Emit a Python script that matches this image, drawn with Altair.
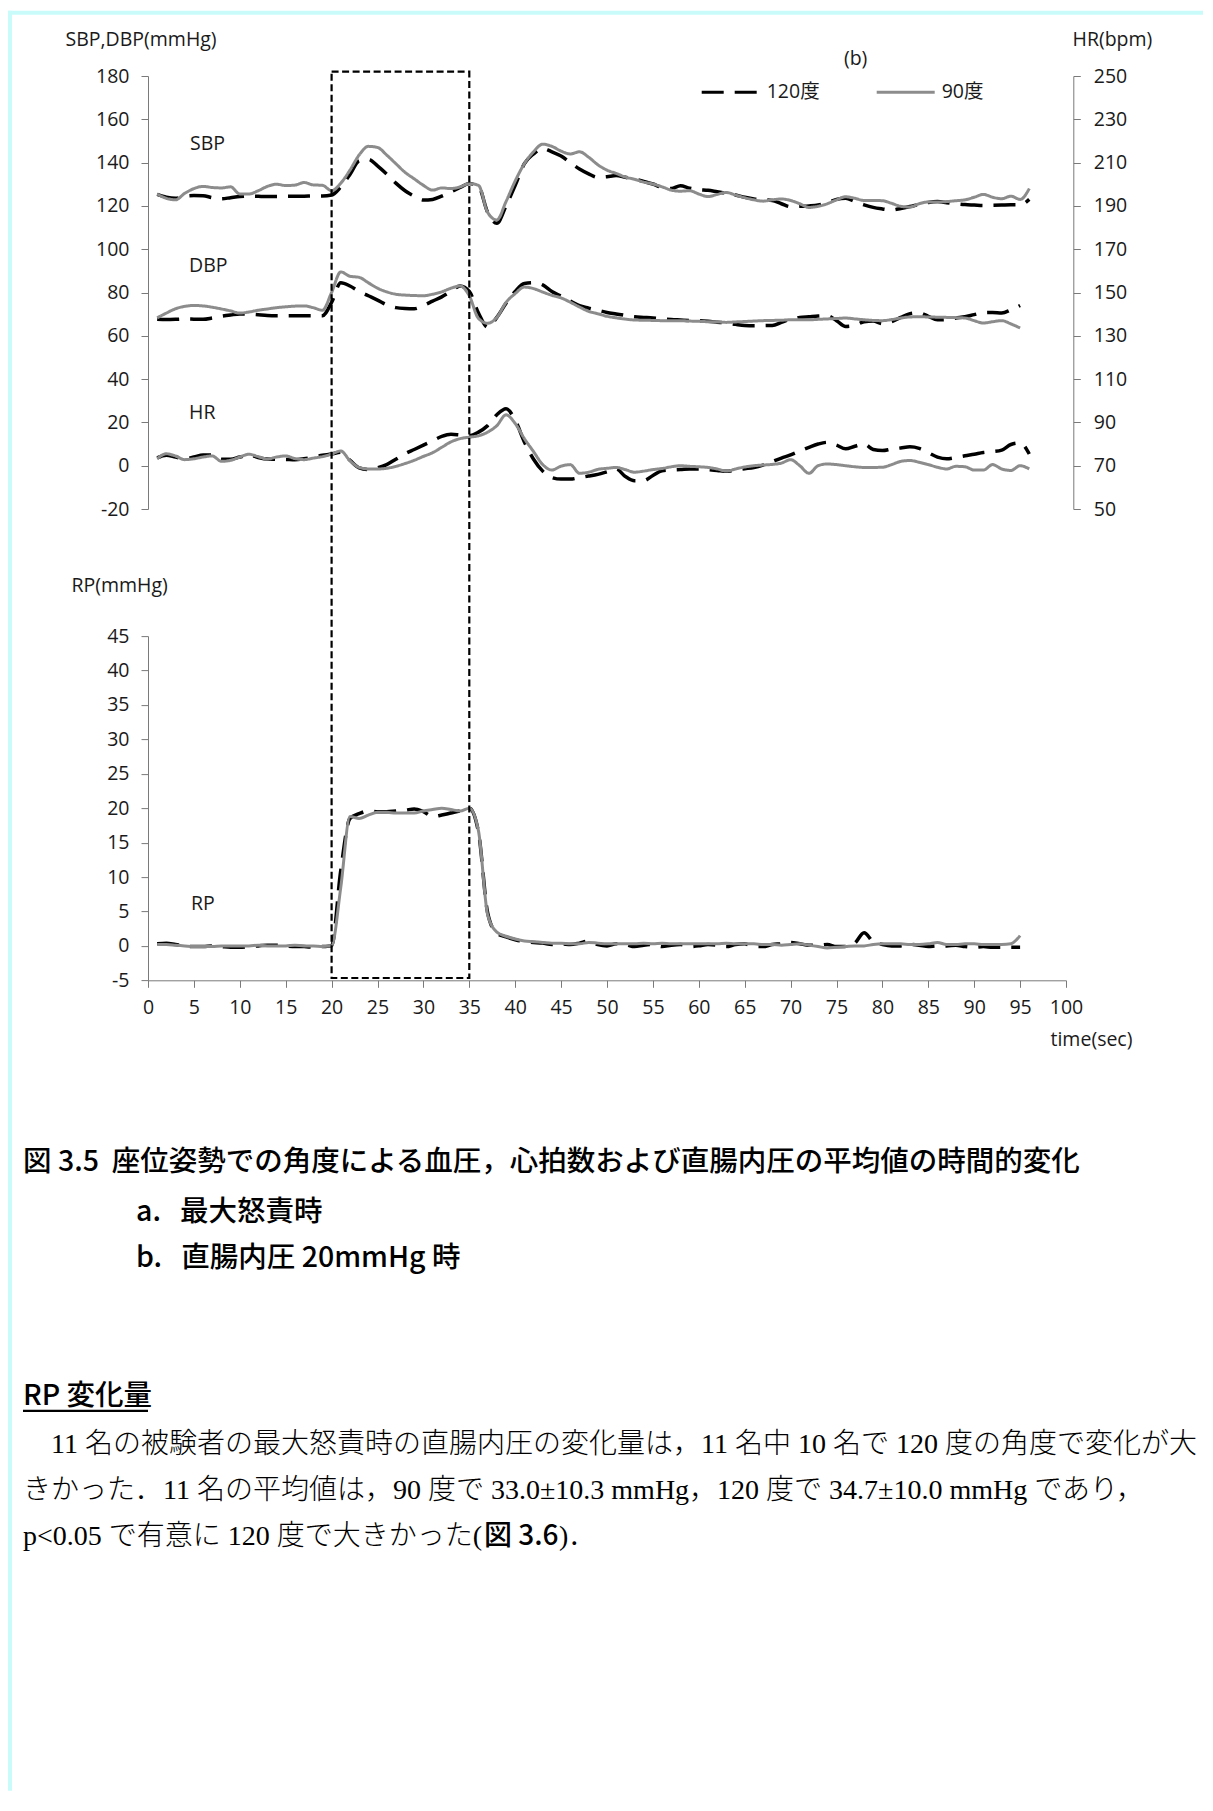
import altair as alt
import pandas as pd

# ------------------------------------------------------------------ data
time_s = list(range(1, 97))  # seconds

sbp_120 = [125.3, 124.0, 123.5, 124.5, 124.8, 124.7, 123.8, 123.3, 123.8, 124.3,
           124.5, 124.4, 124.3, 124.3, 124.4, 124.5, 124.5, 124.6, 124.6, 125.0,
           128.8, 134.5, 140.8, 141.5, 138.5, 134.7, 130.5, 127.0, 124.5, 122.7,
           123.0, 124.5, 126.5, 128.5, 130.3, 129.0, 117.0, 112.0, 120.0, 129.5,
           139.5, 144.0, 146.5, 145.0, 143.0, 140.0, 137.0, 134.8, 133.2, 133.5,
           134.0, 133.2, 132.4, 131.3, 130.1, 128.5, 128.0, 129.3, 128.2, 127.5,
           127.2, 126.5, 125.8, 125.0, 124.0, 123.2, 122.8, 122.5, 121.0, 119.6,
           119.8, 120.0, 120.4, 121.5, 123.0, 123.5, 122.0, 120.5, 119.3, 118.6,
           118.1, 118.8, 119.7, 120.7, 121.6, 122.0, 121.5, 121.0, 120.6, 120.4,
           120.2, 120.3, 120.4, 120.5, 120.5, 123.0]
sbp_90 = [125.5, 123.5, 122.8, 125.8, 128.0, 129.0, 128.5, 128.3, 128.8, 125.5,
          125.5, 127.0, 129.0, 130.0, 129.4, 129.6, 130.8, 129.7, 129.5, 127.0,
          130.5, 136.5, 143.5, 147.5, 147.0, 143.5, 139.5, 135.5, 132.5, 129.5,
          127.3, 128.3, 128.0, 128.8, 130.3, 129.5, 117.0, 113.5, 122.0, 131.5,
          139.5, 145.0, 148.5, 147.5, 145.3, 144.0, 145.0, 142.5, 139.0, 136.5,
          135.0, 133.3, 132.3, 131.0, 130.1, 128.8, 127.3, 126.8, 127.0, 125.5,
          124.3, 125.3, 126.2, 125.0, 123.8, 122.8, 122.2, 122.8, 123.2, 122.5,
          121.0, 119.3, 119.8, 121.0, 122.8, 124.2, 123.5, 122.5, 122.5, 122.4,
          121.2, 119.8, 119.5, 121.0, 121.8, 121.8, 122.0, 122.4, 122.8, 124.0,
          125.3, 124.0, 123.3, 124.5, 123.0, 128.0]
dbp_120 = [67.7, 67.5, 67.6, 67.8, 67.7, 67.6, 68.2, 69.0, 69.6, 70.1,
           70.0, 69.7, 69.4, 69.3, 69.3, 69.3, 69.3, 69.3, 69.3, 75.4,
           84.5, 83.0, 80.5, 78.5, 76.5, 74.3, 73.0, 72.6, 72.5, 74.0,
           76.0, 78.0, 80.5, 83.0, 80.5, 70.5, 64.0, 68.5, 75.0, 80.5,
           84.2, 84.5, 83.5, 80.5, 78.3, 76.0, 73.9, 72.8, 71.8, 70.8,
           70.1, 69.4, 68.8, 68.5, 68.2, 67.8, 67.5, 67.3, 67.1, 67.0,
           66.7, 66.3, 65.9, 65.3, 64.8, 64.7, 64.7, 64.8, 66.2, 67.7,
           68.5, 68.8, 69.1, 69.2, 67.0, 64.3, 64.8, 66.5, 66.8, 65.6,
           66.5, 68.5, 70.2, 70.6, 69.0, 67.4, 67.5, 68.2, 68.8, 69.8,
           70.7, 70.8, 70.5, 72.0, 74.0, None]
dbp_90 = [68.3, 70.5, 72.5, 73.6, 74.0, 73.8, 73.2, 72.4, 71.5, 70.5,
          71.0, 71.8, 72.4, 73.0, 73.4, 73.7, 73.8, 73.0, 71.8, 80.0,
          89.5, 87.5, 87.0, 84.5, 82.0, 80.3, 79.2, 78.8, 78.6, 78.5,
          79.2, 80.3, 82.0, 83.0, 78.5, 68.0, 65.8, 68.5, 75.4, 79.5,
          82.5, 81.8, 80.2, 78.7, 77.5, 75.5, 73.3, 71.3, 70.2, 69.0,
          68.3, 67.7, 67.3, 67.2, 67.1, 67.0, 67.0, 67.0, 66.8, 66.7,
          66.5, 66.4, 66.2, 66.4, 66.6, 66.8, 67.0, 67.1, 67.2, 67.4,
          67.4, 67.4, 67.6, 67.8, 68.0, 68.2, 67.8, 67.4, 67.1, 67.0,
          67.5, 68.2, 68.7, 68.8, 68.7, 68.6, 68.5, 68.4, 68.2, 67.0,
          65.9, 66.5, 67.0, 65.5, 63.6, None]
hr_120 = [73.6, 74.8, 74.0, 73.2, 74.0, 75.0, 75.0, 73.0, 73.0, 74.0,
          74.9, 73.8, 73.1, 73.0, 72.9, 72.7, 73.2, 74.0, 74.8, 75.4,
          76.2, 72.5, 69.0, 68.2, 69.0, 70.5, 73.0, 75.5, 77.5, 79.5,
          81.5, 83.5, 84.5, 84.2, 83.9, 85.5, 88.5, 93.5, 96.3, 91.0,
          81.0, 73.0, 67.5, 64.5, 63.8, 63.8, 64.5, 65.2, 66.0, 67.2,
          68.5, 65.0, 63.0, 63.1, 65.5, 67.7, 68.0, 68.2, 68.5, 68.5,
          68.2, 67.8, 67.4, 68.0, 68.6, 69.2, 70.3, 71.8, 73.5, 75.0,
          76.8, 78.5, 80.0, 80.8, 79.5, 77.8, 79.0, 80.0, 77.5, 77.0,
          77.7, 78.2, 78.7, 78.0, 76.0, 74.0, 73.2, 73.8, 74.6, 75.3,
          76.1, 76.5, 77.2, 79.8, 80.5, 75.4]
hr_90 = [73.2, 75.5, 74.5, 72.8, 73.2, 74.0, 74.5, 72.0, 72.5, 74.0,
         75.3, 74.2, 73.1, 74.0, 74.5, 73.3, 72.8, 73.5, 74.2, 75.4,
         76.8, 72.3, 69.2, 68.5, 68.5, 68.8, 69.7, 71.0, 72.5, 74.3,
         76.0, 78.5, 81.0, 82.5, 83.2, 83.8, 85.5, 88.5, 93.5, 89.5,
         82.5, 76.5, 70.5, 68.0, 69.8, 70.5, 66.5, 67.0, 68.3, 68.8,
         69.2, 68.2, 67.0, 67.5, 68.2, 68.7, 69.5, 70.0, 69.7, 69.5,
         69.2, 68.5, 67.5, 68.5, 69.4, 70.0, 70.3, 70.6, 71.2, 72.8,
         70.0, 66.5, 70.0, 70.8, 70.5, 70.0, 69.5, 69.2, 69.2, 69.3,
         70.5, 72.0, 72.4, 71.6, 70.5, 69.3, 68.5, 69.7, 69.5, 68.0,
         68.0, 70.5, 68.5, 67.8, 70.0, 68.5]
rp_120 = [0.3, 0.4, 0.2, 0.0, -0.1, -0.1, 0.0, -0.1, -0.2, -0.2,
          -0.1, 0.0, 0.1, 0.1, 0.0, -0.1, -0.1, -0.2, -0.1, 0.0,
          11.0, 18.5, 19.2, 19.6, 19.5, 19.5, 19.6, 19.7, 19.9, 19.5,
          18.8, 19.0, 19.3, 19.6, 20.0, 16.5, 4.8, 1.8, 1.3, 0.9,
          0.6, 0.5, 0.4, 0.2, 0.3, 0.2, 0.4, 0.7, 0.2, 0.0,
          0.3, 0.2, -0.1, 0.1, 0.2, -0.1, 0.1, 0.2, -0.1, 0.0,
          0.2, 0.1, -0.1, 0.2, 0.3, -0.1, -0.1, 0.2, 0.3, 0.5,
          0.3, 0.1, 0.1, 0.2, -0.1, -0.1, 0.4, 1.9, 0.6, 0.2,
          0.0, 0.0, 0.2, 0.1, -0.1, 0.0, 0.0, 0.1, -0.1, -0.2,
          -0.1, -0.2, -0.2, -0.2, -0.2, None]
rp_90 = [0.2, 0.2, 0.1, 0.0, -0.1, -0.1, -0.1, 0.0, 0.0, 0.0,
         0.0, 0.1, 0.0, 0.0, 0.0, 0.1, 0.0, 0.0, -0.1, 0.0,
         8.5, 18.8, 18.5, 19.0, 19.4, 19.4, 19.3, 19.3, 19.3, 19.6,
         19.8, 20.0, 19.8, 19.6, 20.0, 16.7, 4.5, 2.0, 1.4, 1.0,
         0.7, 0.6, 0.5, 0.4, 0.4, 0.3, 0.3, 0.5, 0.4, 0.3,
         0.3, 0.3, 0.3, 0.4, 0.3, 0.4, 0.3, 0.3, 0.3, 0.3,
         0.3, 0.3, 0.4, 0.3, 0.3, 0.3, 0.2, 0.2, 0.1, 0.2,
         0.3, 0.1, -0.1, -0.3, -0.2, -0.1, 0.0, 0.0, 0.2, 0.3,
         0.3, 0.3, 0.2, 0.2, 0.3, 0.5, 0.2, 0.2, 0.3, 0.3,
         0.2, 0.2, 0.2, 0.3, 1.5, None]

angles = ["120度", "90度"]
left_ticks = list(range(-20, 181, 20))
right_ticks = list(range(50, 251, 20))
rp_ticks = list(range(-5, 46, 5))
time_ticks = list(range(0, 101, 5))
box_span = [20, 35]  # dashed frame, seconds

NB = "\u00a0"
caption_lines = ["図 3.5" + NB + NB + "座位姿勢での角度による血圧，心拍数および直腸内圧の平均値の時間的変化",
                 "a." + NB * 3 + "最大怒責時",
                 "b." + NB * 3 + "直腸内圧 20mmHg 時"]
heading = "RP 変化量"
body_lines = ["11 名の被験者の最大怒責時の直腸内圧の変化量は，11 名中 10 名で 120 度の角度で変化が大",
              "きかった．11 名の平均値は，90 度で 33.0±10.3 mmHg，120 度で 34.7±10.0 mmHg であり，"]
body_last = ["p<0.05 で有意に 120 度で大きかった(", "図 3.6", ")．"]


def rows(values, measure, angle, key="value"):
    return [{"time": ti, "measure": measure, "angle": angle, key: v}
            for ti, v in zip(time_s, values) if v is not None]


bp_df = {"120度": pd.DataFrame(rows(sbp_120, "SBP", "120度") + rows(dbp_120, "DBP", "120度")),
         "90度": pd.DataFrame(rows(sbp_90, "SBP", "90度") + rows(dbp_90, "DBP", "90度"))}
hr_df = {"120度": pd.DataFrame(rows(hr_120, "HR", "120度", "bpm")),
         "90度": pd.DataFrame(rows(hr_90, "HR", "90度", "bpm"))}
rp_df = {"120度": pd.DataFrame(rows(rp_120, "RP", "120度")),
         "90度": pd.DataFrame(rows(rp_90, "RP", "90度"))}
box_df = pd.DataFrame({"start": [box_span[0]], "end": [box_span[1]]})
one = pd.DataFrame({"n": [0]})

# ------------------------------------------------------------------ style
CH_FONT = "Open Sans, Noto Sans CJK JP"
GOTHIC = "Noto Sans CJK JP"
MINCHO = "Liberation Serif, Noto Sans CJK JP"
TXT = "#1a1a1a"
AXC = "#7a7a7a"
CYAN = "#c9fbfb"
FS = 19.5
CFS = 28.5
BFS = 28
GW = 500  # gothic weight
W_PLOT, H_TOP, H_BOT = 918, 433, 344.2

line_style = {"120度": dict(strokeWidth=3.5), "90度": dict(strokeWidth=3.0)}
rp_style = {"120度": dict(color="#000000", strokeDash=[22, 11], strokeWidth=3.5),
            "90度": dict(color="#8c8c8c", strokeWidth=3.0)}


def note(text, x, y, size=FS, font=CH_FONT, weight="normal", align="left",
         baseline="alphabetic", color=TXT):
    return alt.Chart(one).mark_text(
        text=text, align=align, baseline=baseline, font=font, fontSize=size,
        fontWeight=weight, color=color
    ).encode(x=alt.value(x), y=alt.value(y))


def band(x, x2, y, y2, color):
    return alt.Chart(one).mark_rect(color=color).encode(
        x=alt.value(x), x2=alt.value(x2), y=alt.value(y), y2=alt.value(y2))


xscale = alt.Scale(domain=[0, 100], nice=False, zero=False)

legend = alt.Legend(orient="none", legendX=551.7, legendY=-15, direction="horizontal",
                    title=None, symbolType="stroke", symbolSize=3364, symbolStrokeWidth=3.2,
                    labelFont=CH_FONT, labelFontSize=FS, labelColor=TXT, labelOffset=5,
                    columnPadding=50, padding=0)
color_enc = alt.Color("angle:N", scale=alt.Scale(domain=angles, range=["#000000", "#8c8c8c"]),
                      legend=legend)
dash_enc = alt.StrokeDash("angle:N", scale=alt.Scale(domain=angles, range=[[22, 11], [1, 0]]),
                          legend=legend)

bp_axis = alt.Axis(values=left_ticks, orient="left", title="SBP,DBP(mmHg)", titleAngle=0,
                   titleAlign="left", titleBaseline="alphabetic", titleX=-83, titleY=-30.3,
                   tickSize=7, labelPadding=12, labelExpr="'' + datum.value")
hr_axis = alt.Axis(values=right_ticks, orient="right", offset=7.3, title="HR(bpm)", titleAngle=0,
                   titleAlign="left", titleBaseline="alphabetic", titleX=-1.3, titleY=-30.3,
                   tickSize=7, labelPadding=13)
rp_axis = alt.Axis(values=rp_ticks, orient="left", title="RP(mmHg)", titleAngle=0,
                   titleAlign="left", titleBaseline="alphabetic", titleX=-77, titleY=-44.4,
                   tickSize=7, labelPadding=12, labelExpr="'' + datum.value")
t_axis = alt.Axis(values=time_ticks, title="time(sec)", titleAngle=0, titleAlign="left",
                  titleBaseline="alphabetic", titleX=902, titleY=65.4, tickSize=7,
                  labelPadding=11, labelFlush=False, labelOverlap=False)

# ------------------------------------------------------------------ top panel
bp_layers = [
    alt.Chart(bp_df[a]).mark_line(interpolate="monotone", **line_style[a]).encode(
        x=alt.X("time:Q", scale=xscale, axis=None),
        y=alt.Y("value:Q", scale=alt.Scale(domain=[-20, 180], nice=False, zero=False), axis=bp_axis),
        color=color_enc, strokeDash=dash_enc, detail="measure:N")
    for a in angles
]
hr_layers = [
    alt.Chart(hr_df[a]).mark_line(interpolate="monotone", **line_style[a]).encode(
        x=alt.X("time:Q", scale=xscale, axis=None),
        y=alt.Y("bpm:Q", scale=alt.Scale(domain=[50, 250], nice=False, zero=False), axis=hr_axis),
        color=color_enc, strokeDash=dash_enc)
    for a in angles
]

top = alt.layer(
    alt.layer(*bp_layers),
    alt.layer(*hr_layers),
    band(-140, 1055, -65.3, -61.3, CYAN),
    band(-140, -136, -65.3, 1714.7, CYAN),
    note("SBP", 42, 74),
    note("DBP", 41, 196.4),
    note("HR", 41, 342.7),
    note("(b)", 707.6, -11.5, align="center"),
).resolve_scale(y="independent").properties(width=W_PLOT, height=H_TOP)

# ------------------------------------------------------------------ bottom panel
rp_layers = [
    alt.Chart(rp_df[a]).mark_line(interpolate="monotone", **rp_style[a]).encode(
        x=alt.X("time:Q", scale=xscale, axis=t_axis),
        y=alt.Y("value:Q", scale=alt.Scale(domain=[-5, 45], nice=False, zero=False), axis=rp_axis))
    for a in angles
]

box = alt.Chart(box_df).mark_rect(fillOpacity=0, stroke="#000000", strokeWidth=2.2,
                                  strokeDash=[7, 3.5]).encode(
    x=alt.X("start:Q", scale=xscale, axis=t_axis),
    x2="end:Q",
    y=alt.value(-564.4),
    y2=alt.value(341.9))

BODY_X = -125
BLACK = "#000000"
text_layers = [
    note(caption_lines[0], -125, 525.6, size=CFS, font=GOTHIC, weight=GW, baseline="middle", color=BLACK),
    note(caption_lines[1], -12, 575.6, size=CFS, font=GOTHIC, weight=GW, baseline="middle", color=BLACK),
    note(caption_lines[2], -12, 621.6, size=CFS, font=GOTHIC, weight=GW, baseline="middle", color=BLACK),
    note(heading, -125, 759.6, size=CFS, font=GOTHIC, weight=GW, baseline="middle", color=BLACK),
    band(-125, 0, 773.6, 775.8, BLACK),
    note(body_lines[0], BODY_X + 28, 808.6, size=BFS, font=MINCHO, weight=300, baseline="middle", color=BLACK),
    note(body_lines[1], BODY_X, 854.6, size=BFS, font=MINCHO, weight=300, baseline="middle", color=BLACK),
    note(body_last[0], BODY_X, 900.6, size=BFS, font=MINCHO, weight=300, baseline="middle", color=BLACK),
    note(body_last[1], BODY_X + 461, 900.6, size=BFS, font=GOTHIC, weight=GW, baseline="middle", color=BLACK),
    note(body_last[2], BODY_X + 536, 900.6, size=BFS, font=MINCHO, weight=300, baseline="middle", color=BLACK),
]

bottom = alt.layer(
    *rp_layers,
    box,
    note("RP", 43, 273.6),
    *text_layers,
).properties(width=W_PLOT, height=H_BOT)

chart = alt.vconcat(top, bottom, spacing=127.1, bounds="flush").resolve_scale(
    color="independent", strokeDash="independent"
).properties(
    padding={"left": 0, "top": 2, "right": 0, "bottom": 0}
).configure_view(strokeWidth=0).configure_axis(
    domainColor=AXC, tickColor=AXC, domainWidth=1, tickWidth=1, grid=False,
    labelFont=CH_FONT, labelFontSize=FS, labelColor=TXT,
    titleFont=CH_FONT, titleFontSize=FS, titleFontWeight="normal", titleColor=TXT
)

chart.save("out.html", embed_options={"renderer": "svg", "actions": False})
